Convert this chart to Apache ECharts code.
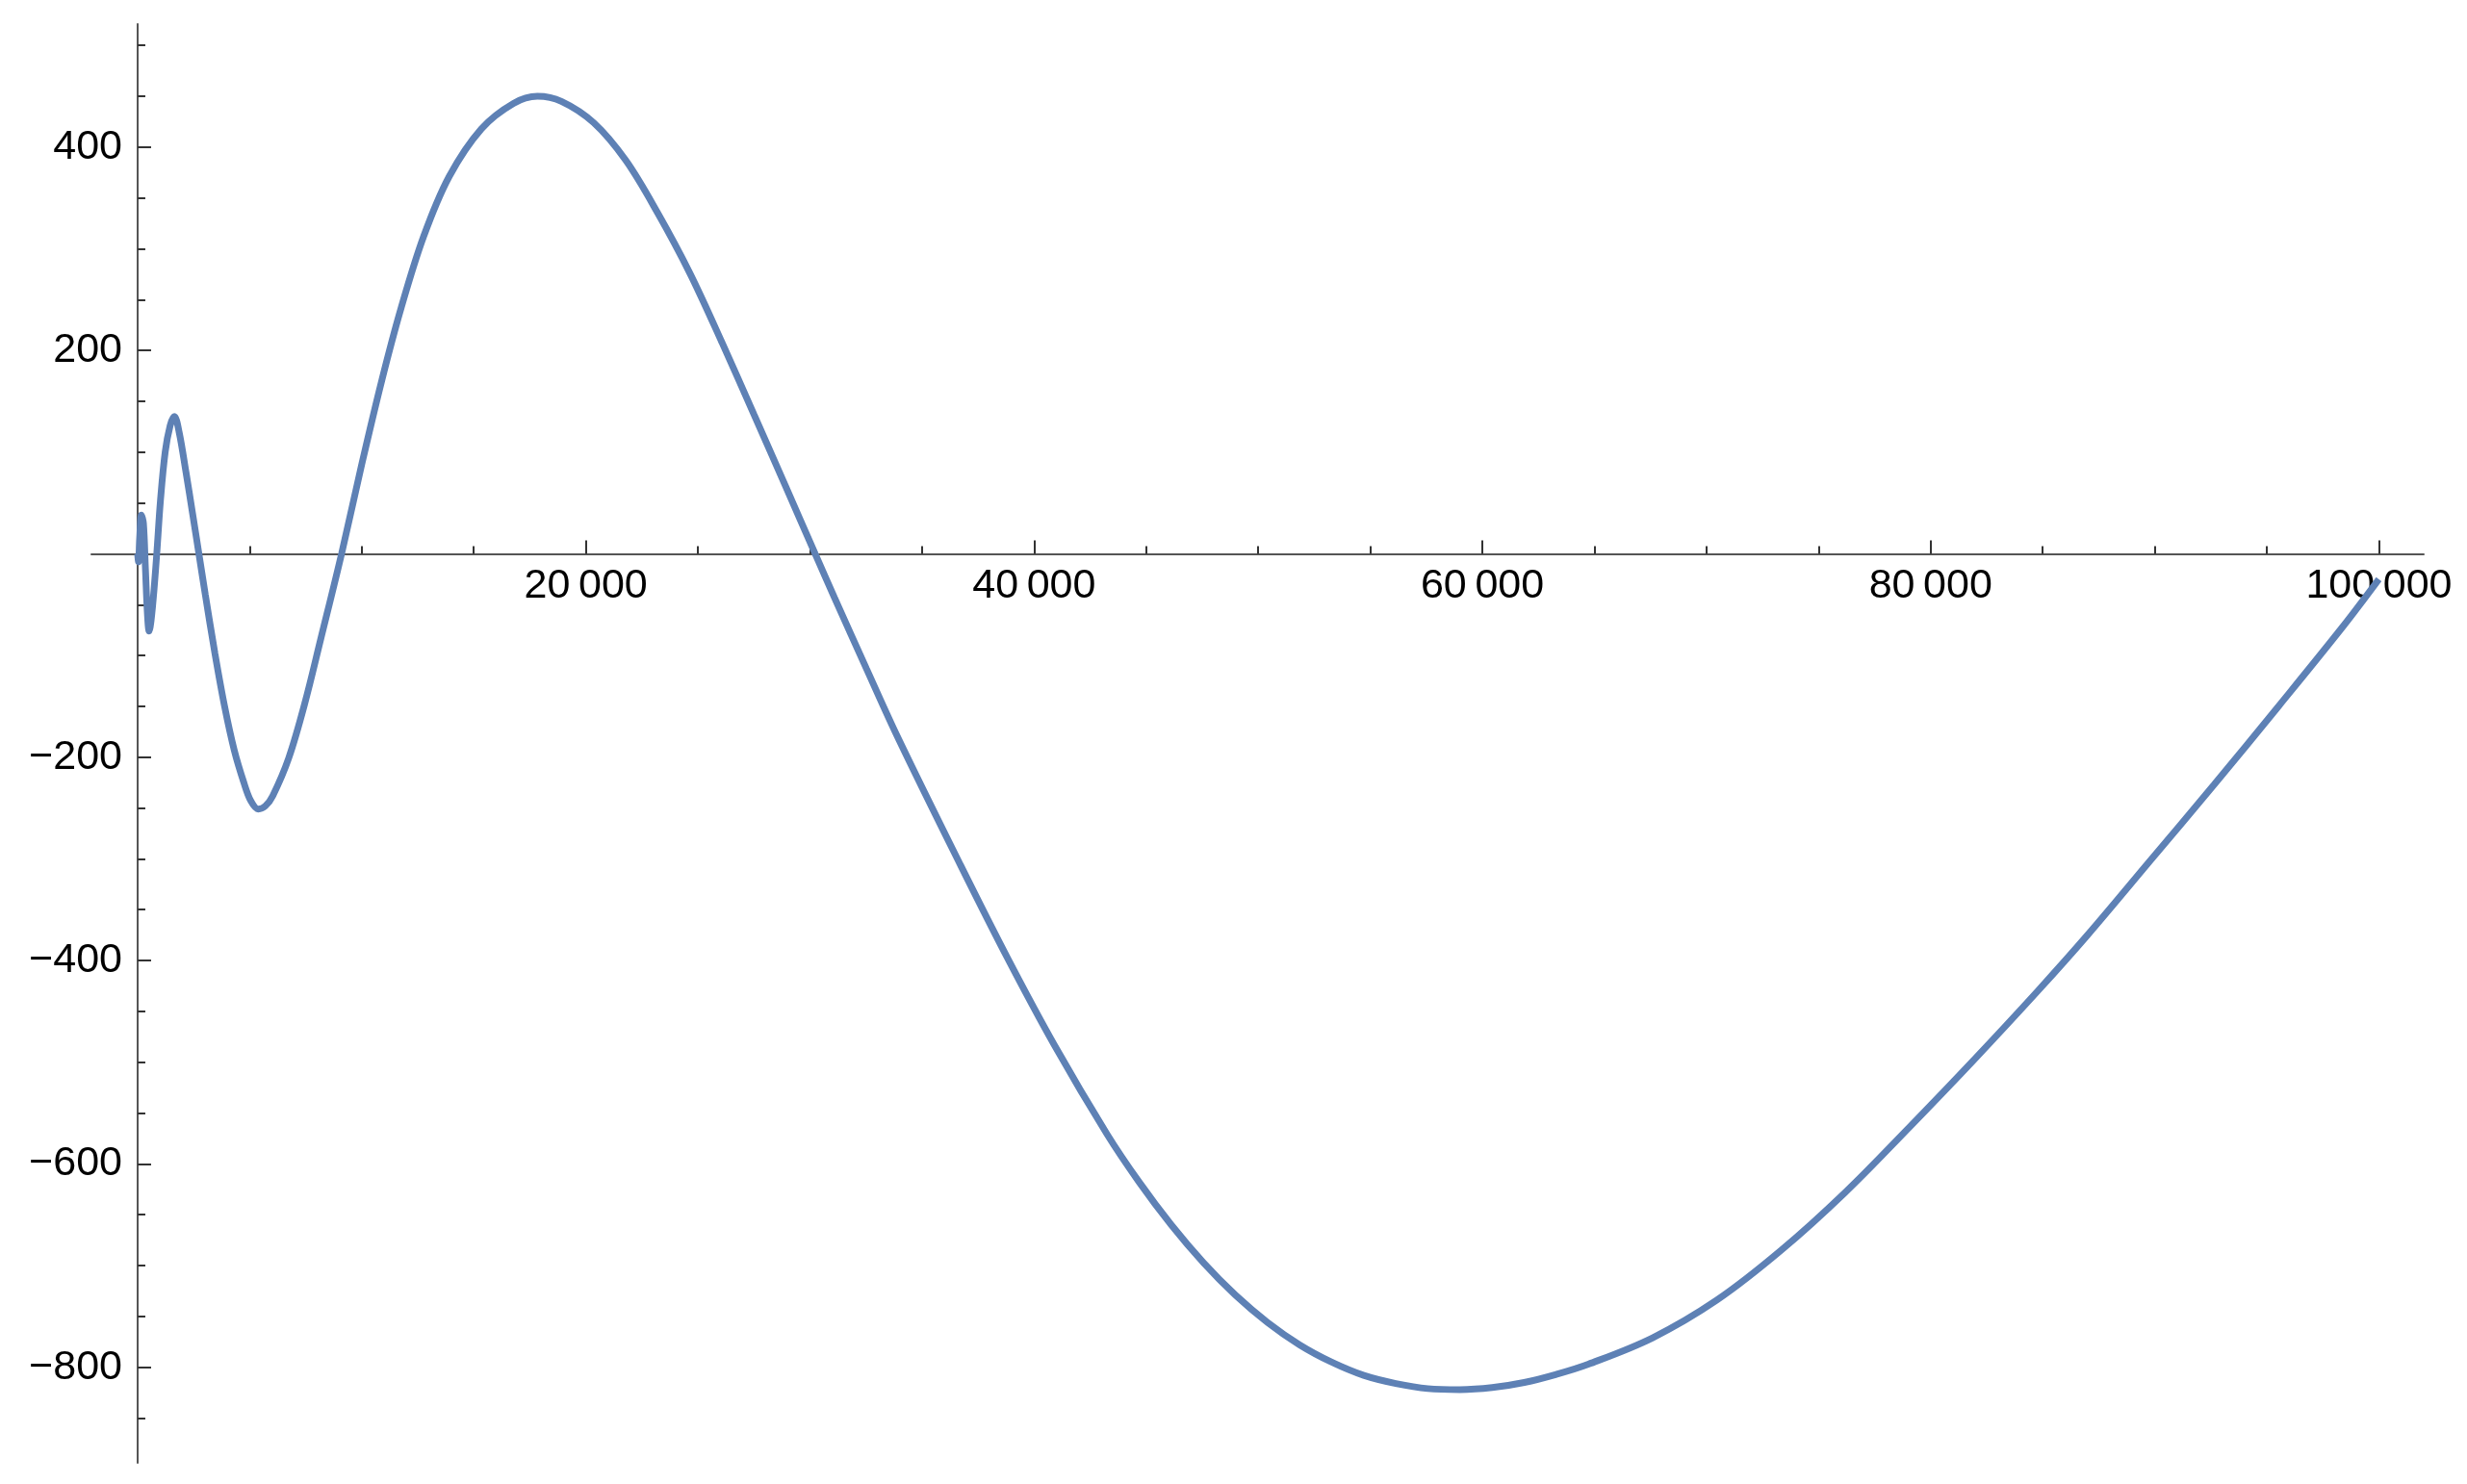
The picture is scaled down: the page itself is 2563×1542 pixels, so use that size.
<!DOCTYPE html>
<html>
<head>
<meta charset="utf-8">
<script src="https://cdn.jsdelivr.net/npm/echarts@6/dist/echarts.min.js"></script>
<style>
  html, body {
    margin: 0;
    padding: 0;
    background: #fff;
  }
  #chart {
    width: 2563px;
    height: 1542px;
  }
</style>
</head>
<body>
<div id="chart"></div>
<script>
  // values
  var xValues = [0, 40, 90, 170, 260, 350, 440, 515, 600, 730, 870, 1018, 1230, 1450, 1640, 1850, 2160, 2450, 2735, 3020,
    3450, 3880, 4310, 4740, 5050, 5380, 5700, 6030, 6740, 7460, 8180, 9100, 10000, 10900, 11760, 12760, 13900, 15340,
    16770, 17840, 18910, 20350, 21780, 23210, 24640, 26070, 27500, 28900, 30230, 31090, 32520, 33950, 36690, 38800,
    40900, 43260, 44690, 46120, 47550, 48980, 50420, 51850, 53280, 54710, 56140, 57570, 59000, 60440, 61870, 63300,
    64730, 67600, 70460, 73330, 76190, 79050, 81920, 84780, 87000, 89790, 92650, 95520, 98380, 100000];
  var yValues = [0, -8, 15, 38, 30, -15, -60, -76, -66, -36, 5, 52, 100, 126, 135, 120, 80, 40, 0, -40,
    -98, -150, -193, -225, -243, -251, -248, -238, -201, -147, -83, 0, 88, 171, 242, 312, 371, 418,
    443, 450, 445, 424, 387, 335, 276, 208, 137, 67, 0, -43, -113, -182, -305, -397,
    -483, -571, -618, -660, -697, -729, -756, -778, -795, -808, -816, -821, -822, -820, -815, -807,
    -797, -771, -734, -685, -628, -564, -498, -430, -375, -302, -227, -150, -72, -25];

  var xMin = -2060, xMax = 102000;
  var yMin = -894, yMax = 521;

  var xMajorTicks = [20000, 40000, 60000, 80000, 100000];
  var xMinorTicks = [5000, 10000, 15000, 25000, 30000, 35000, 45000, 50000, 55000, 65000, 70000, 75000, 85000, 90000, 95000];
  var yMajorTicks = [-800, -600, -400, -200, 200, 400];
  var yMinorTicks = [-850, -750, -700, -650, -550, -500, -450, -350, -300, -250, -150, -100, -50,
    50, 100, 150, 250, 300, 350, 450, 500];

  var points = xValues.map(function (x, i) { return [x, yValues[i]]; });

  var width = 2563, height = 1542;
  var gridLeft = 95, gridRight = 45, gridTop = 25, gridBottom = 22;
  var plotW = width - gridLeft - gridRight;
  var plotH = height - gridTop - gridBottom;
  // axes cross at the origin, so move them in from the grid edges
  var xAxisShift = -(0 - yMin) / (yMax - yMin) * plotH;
  var yAxisShift = -(0 - xMin) / (xMax - xMin) * plotW;

  function fmtX(v) {
    return String(v).replace(/\B(?=(\d{3})+(?!\d))/g, '\u2009');
  }
  function fmtY(v) {
    return v < 0 ? '\u2212' + Math.abs(v) : String(v);
  }

  var axisColor = '#555';
  var tickStyle = { color: '#333', width: 2 };
  var labelFont = {
    color: '#000',
    fontSize: 43,
    fontFamily: '"Liberation Sans", Arial, sans-serif'
  };

  var chart = echarts.init(document.getElementById('chart'));
  var option = {
    animation: false,
    backgroundColor: '#fff',
    grid: {
      left: gridLeft,
      right: gridRight,
      top: gridTop,
      bottom: gridBottom,
      containLabel: false,
      outerBoundsMode: 'none'
    },
    xAxis: [
      {
        type: 'value',
        position: 'bottom',
        offset: xAxisShift,
        min: xMin,
        max: xMax,
        axisLine: { show: true, onZero: false, lineStyle: { color: axisColor, width: 2 } },
        axisTick: { show: true, inside: true, length: 14, customValues: xMajorTicks, lineStyle: tickStyle },
        axisLabel: Object.assign({ show: true, margin: 12, customValues: xMajorTicks, formatter: fmtX }, labelFont),
        splitLine: { show: false }
      },
      {
        type: 'value',
        position: 'bottom',
        offset: xAxisShift,
        min: xMin,
        max: xMax,
        axisLine: { show: false, onZero: false },
        axisTick: { show: true, inside: true, length: 8, customValues: xMinorTicks, lineStyle: tickStyle },
        axisLabel: { show: false },
        splitLine: { show: false }
      }
    ],
    yAxis: [
      {
        type: 'value',
        position: 'left',
        offset: yAxisShift,
        min: yMin,
        max: yMax,
        axisLine: { show: true, onZero: false, lineStyle: { color: axisColor, width: 2 } },
        axisTick: { show: true, inside: true, length: 14, customValues: yMajorTicks, lineStyle: tickStyle },
        axisLabel: Object.assign({ show: true, margin: 16, customValues: yMajorTicks, formatter: fmtY }, labelFont),
        splitLine: { show: false }
      },
      {
        type: 'value',
        position: 'left',
        offset: yAxisShift,
        min: yMin,
        max: yMax,
        axisLine: { show: false, onZero: false },
        axisTick: { show: true, inside: true, length: 8, customValues: yMinorTicks, lineStyle: tickStyle },
        axisLabel: { show: false },
        splitLine: { show: false }
      }
    ],
    series: [
      {
        type: 'line',
        xAxisIndex: 0,
        yAxisIndex: 0,
        data: points,
        smooth: 0.35,
        showSymbol: false,
        symbol: 'none',
        lineStyle: { color: '#5e81b5', width: 7 }
      }
    ]
  };
  chart.setOption(option);
</script>
</body>
</html>
